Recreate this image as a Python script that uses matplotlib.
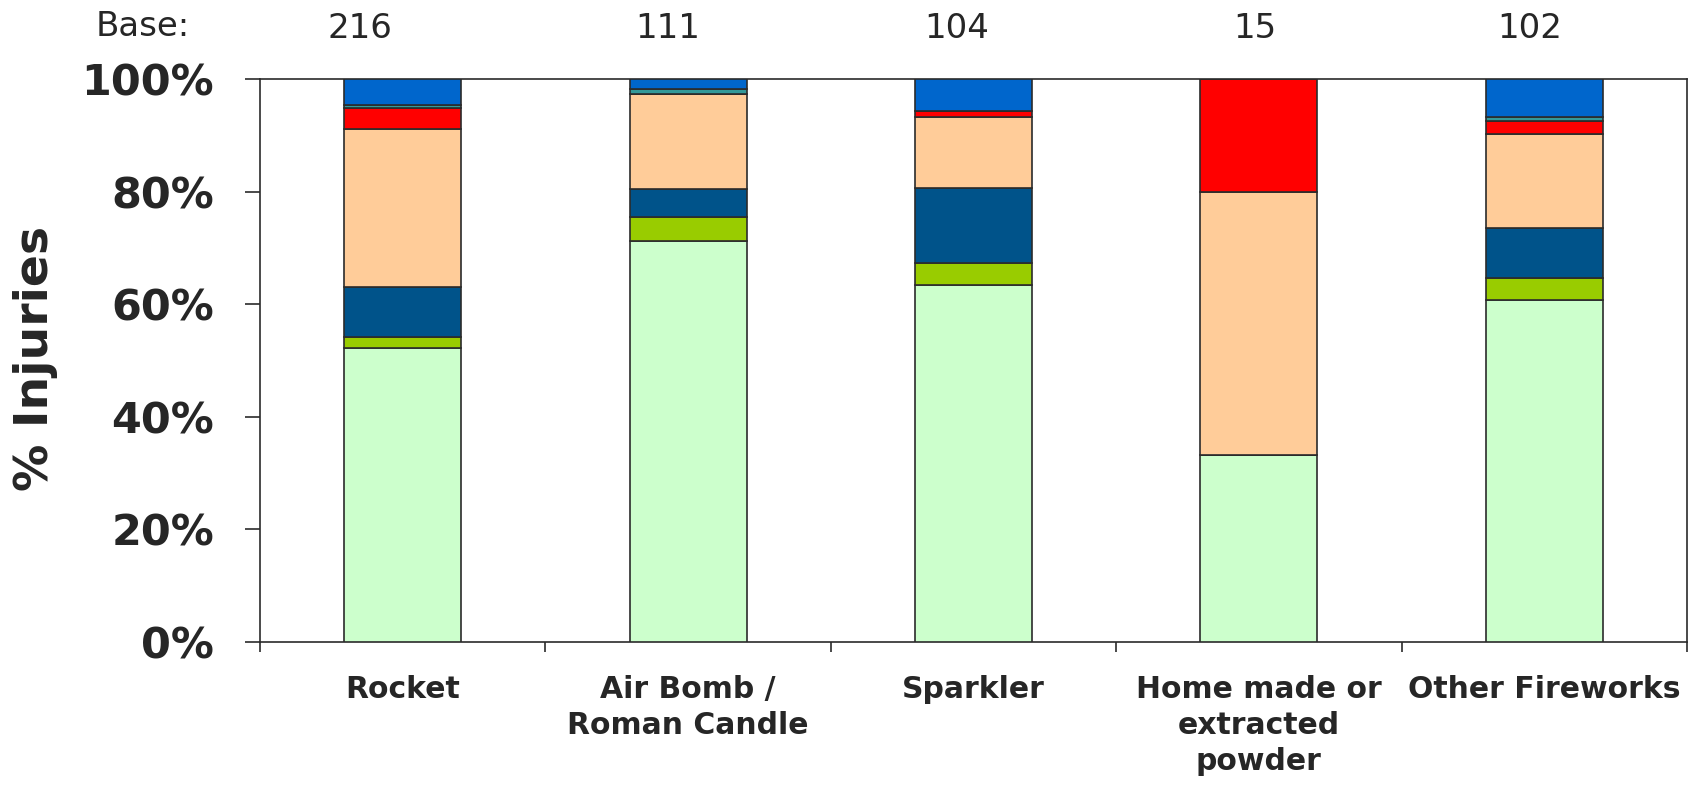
import matplotlib
matplotlib.use("Agg")
import matplotlib.pyplot as plt
import numpy as np

categories = ["Rocket", "Air Bomb /\nRoman Candle", "Sparkler",
              "Home made or\nextracted\npowder", "Other Fireworks"]
bases = ["216", "111", "104", "15", "102"]

# stacked segments, bottom to top (% of injuries)
seg_lightgreen = [52.2, 71.2, 63.4, 33.3, 60.7]
seg_yellowgreen = [2.0, 4.3, 4.0, 0.0, 4.0]
seg_darkblue = [8.9, 4.9, 13.3, 0.0, 8.9]
seg_peach = [28.1, 16.9, 12.6, 46.7, 16.6]
seg_red = [3.7, 0.0, 1.1, 20.0, 2.4]
seg_teal = [0.5, 1.0, 0.0, 0.0, 0.7]
seg_blue = [4.6, 1.7, 5.6, 0.0, 6.7]

yticks = [0, 20, 40, 60, 80, 100]
ytick_labels = ["0%", "20%", "40%", "60%", "80%", "100%"]

series = [seg_lightgreen, seg_yellowgreen, seg_darkblue, seg_peach,
          seg_red, seg_teal, seg_blue]
colors = ["#CCFFCC", "#99CC00", "#00538A", "#FFCC99", "#FF0000",
          "#339999", "#0066CC"]

txt = "#262626"
fig = plt.figure(figsize=(16.9, 7.87), dpi=100)
ax = fig.add_axes([260/1690, 1-642/787, (1687-260)/1690, (642-79)/787])

x = np.arange(len(categories))
bottom = np.zeros(len(categories))
for vals, c in zip(series, colors):
    v = np.array(vals)
    ax.bar(x, v, width=0.41, bottom=bottom, color=c, edgecolor="#2b2b2b",
           linewidth=1.2, zorder=3)
    bottom += v

ax.set_xlim(-0.5, len(categories) - 0.5)
ax.set_ylim(0, 100)
ax.set_yticks(yticks)
ax.set_yticklabels(ytick_labels, fontsize=31, fontweight="bold", color=txt)
ax.tick_params(axis="y", direction="out", length=11, width=1.2,
               color="#2b2b2b", pad=22)

ax.set_xticks(np.arange(-0.5, len(categories), 1.0))
ax.set_xticklabels([])
ax.tick_params(axis="x", which="major", direction="out", length=7,
               width=1.2, color="#2b2b2b")
ax.set_xticks(x, minor=True)
ax.set_xticklabels(categories, minor=True, fontsize=21.5, fontweight="bold",
                   color=txt, linespacing=1.3)
ax.tick_params(axis="x", which="minor", length=0, pad=24)

for s in ax.spines.values():
    s.set_linewidth(1.2)
    s.set_color("#2b2b2b")

fig.text(36/1690, 1-358/787, "% Injuries", rotation=90, fontsize=34,
         fontweight="bold", color=txt, ha="center", va="center")

fig.text(143/1690, 1-26/787, "Base:", fontsize=24.5, color=txt,
         ha="center", va="center")
base_offsets = [-0.15, -0.07, -0.06, -0.015, -0.05]
for i, (b, off) in enumerate(zip(bases, base_offsets)):
    ax.text(i + off, 1 + 51/563, b, transform=ax.get_xaxis_transform(),
            fontsize=24.5, color=txt, ha="center", va="center", clip_on=False)

fig.savefig("out.png", dpi=100)
